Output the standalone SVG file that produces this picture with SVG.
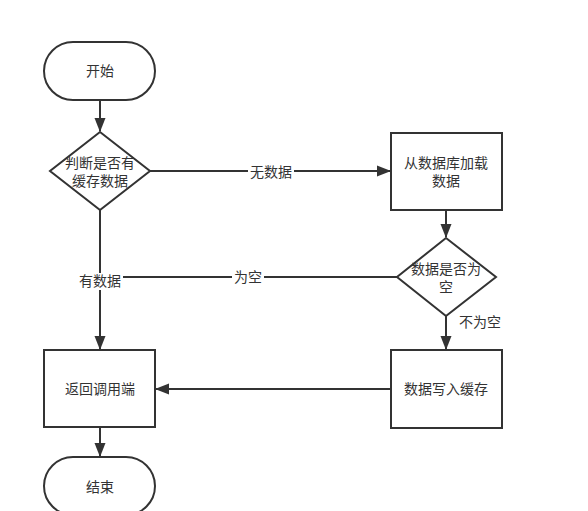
<svg xmlns="http://www.w3.org/2000/svg" width="588" height="511" viewBox="0 0 588 511">
<style>
.s{fill:#fff;stroke:#333;stroke-width:2}
.l{fill:none;stroke:#333;stroke-width:2}
.t{font-family:"Liberation Sans","Noto Sans CJK SC",sans-serif;font-size:14px;fill:#333;text-anchor:middle;dominant-baseline:central}
.lb{fill:#fff}
</style>
<defs>
<marker id="a" markerWidth="14" markerHeight="12" refX="13" refY="6" orient="auto" markerUnits="userSpaceOnUse">
<path d="M0,0.5 L14,6 L0,11.5 Z" fill="#333"/>
</marker>
</defs>
<rect width="588" height="511" fill="#fff"/>
<g id="connectors">
<line class="l" x1="100" y1="100" x2="100" y2="131" marker-end="url(#a)"/>
<line class="l" x1="150" y1="171" x2="390" y2="171" marker-end="url(#a)"/>
<line class="l" x1="446" y1="210" x2="446" y2="237" marker-end="url(#a)"/>
<line class="l" x1="446" y1="316" x2="446" y2="349" marker-end="url(#a)"/>
<line class="l" x1="397" y1="277" x2="100" y2="277"/>
<line class="l" x1="100" y1="210" x2="100" y2="349" marker-end="url(#a)"/>
<line class="l" x1="391" y1="389" x2="156" y2="389" marker-end="url(#a)"/>
<line class="l" x1="100" y1="427" x2="100" y2="456" marker-end="url(#a)"/>
<rect class="lb" x="248" y="163" width="46" height="17"/>
<text class="t" x="271" y="172">无数据</text>
<rect class="lb" x="232" y="269" width="32" height="17"/>
<text class="t" x="248" y="277">为空</text>
<rect class="lb" x="77" y="273" width="46" height="17"/>
<text class="t" x="100" y="281">有数据</text>
<text class="t" x="480" y="322">不为空</text>
</g>
<g id="start">
<rect class="s" x="44" y="42" width="111" height="58" rx="29" ry="29"/>
<text class="t" x="100" y="71">开始</text>
</g>
<g id="check-cache">
<polygon class="s" points="100,132 150,171 100,210 50,171"/>
<text class="t" x="100" y="163">判断是否有</text>
<text class="t" x="100" y="181">缓存数据</text>
</g>
<g id="load-db">
<rect class="s" x="391" y="133" width="111" height="77"/>
<text class="t" x="446" y="163">从数据库加载</text>
<text class="t" x="446" y="181">数据</text>
</g>
<g id="check-empty">
<polygon class="s" points="446,238 496,277 446,316 397,277"/>
<text class="t" x="446" y="269">数据是否为</text>
<text class="t" x="446" y="287">空</text>
</g>
<g id="write-cache">
<rect class="s" x="391" y="350" width="111" height="78"/>
<text class="t" x="446" y="389">数据写入缓存</text>
</g>
<g id="return">
<rect class="s" x="44" y="350" width="111" height="77"/>
<text class="t" x="100" y="389">返回调用端</text>
</g>
<g id="end">
<rect class="s" x="44" y="457" width="111" height="58" rx="29" ry="29"/>
<text class="t" x="100" y="487">结束</text>
</g>
</svg>
